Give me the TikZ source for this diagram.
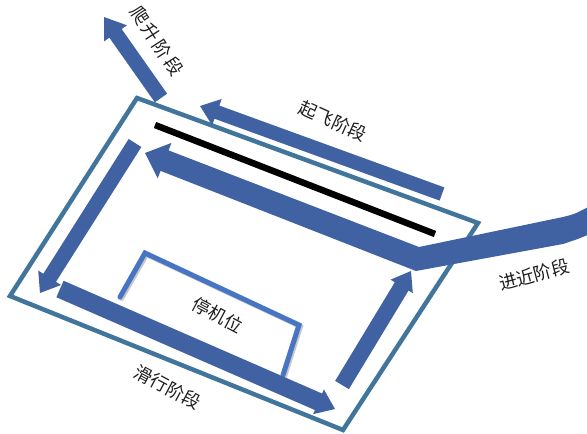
\documentclass[tikz,border=0pt]{standalone}
\usepackage{fontspec}
\newfontfamily\cjk{Noto Sans CJK SC}
\usetikzlibrary{calc}
\definecolor{arrowblue}{RGB}{64,97,162}
\definecolor{framecol}{RGB}{66,117,155}
\definecolor{standcol}{RGB}{70,117,196}
\definecolor{txtcol}{RGB}{30,30,30}
\newcommand\blkarrow[5]{% tail, tip, shaft half width, head half width, head length
  \coordinate (hb) at ($(#2)!#5!(#1)$);
  \fill[arrowfill] ($(#1)!#3!90:(#2)$) -- ($(hb)!#3!90:(#2)$) -- ($(hb)!#4!90:(#2)$) -- (#2)
    -- ($(hb)!#4!-90:(#2)$) -- ($(hb)!#3!-90:(#2)$) -- ($(#1)!#3!-90:(#2)$) -- cycle;}
\tikzset{
  arrowfill/.style={fill=arrowblue},
  frameline/.style={draw=framecol, line width=4.5pt, line join=miter},
  runway/.style={draw=black, line width=6.5pt},
  standline/.style={draw=standcol, line width=5pt, line cap=round, line join=miter},
  standshadow/.style={draw=black!22, line width=5pt, line cap=round, line join=miter},
  lbl/.style={font=\cjk\fontsize{18}{21}\selectfont, text=txtcol, inner sep=0pt}
}
\begin{document}
\begin{tikzpicture}[x=1pt,y=-1pt]
\useasboundingbox (0,0) rectangle (587,434);
% frame
\coordinate (f1) at (137,98);
\coordinate (f2) at (478,223);
\coordinate (f3) at (343,430);
\coordinate (f4) at (10,296);
\draw[frameline] (f1) -- (f2) -- (f3) -- (f4) -- cycle;
% runway
\coordinate (r1) at (155,125);
\coordinate (r2) at (435,234);
\draw[runway] (r1) -- (r2);
% stand
\coordinate (s1) at (120,297);
\coordinate (s2) at (145,253);
\coordinate (s3) at (299,325);
\coordinate (s4) at (283,375);
\draw[standshadow] ($(s1)+(1.5,1.5)$) -- ($(s2)+(1.5,1.5)$) -- ($(s3)+(1.5,1.5)$) -- ($(s4)+(1.5,1.5)$);
\draw[standline] (s1) -- (s2) -- (s3) -- (s4);
% climb arrow
\coordinate (ctail) at (161,98);
\coordinate (ctip) at (104,17);
\blkarrow{ctail}{ctip}{7.5pt}{14pt}{20pt}
% takeoff arrow
\coordinate (ttail) at (442,194);
\coordinate (ttip) at (200,106);
\blkarrow{ttail}{ttip}{7pt}{14pt}{18pt}
% left down arrow
\coordinate (ltail) at (135,143);
\coordinate (ltip) at (40,293);
\blkarrow{ltail}{ltip}{7.5pt}{13.5pt}{18pt}
% taxi arrow
\coordinate (btail) at (60,289);
\coordinate (btip) at (335,409);
\blkarrow{btail}{btip}{9pt}{13.5pt}{18pt}
% right up arrow
\coordinate (utail) at (342,385);
\coordinate (utip) at (411,271);
\blkarrow{utail}{utip}{8pt}{13pt}{18pt}
% main approach / landing arrow
\coordinate (mbend) at (417,259);
\coordinate (mtip) at (145,153);
\coordinate (mh) at ($(mtip)!21pt!(mbend)$);
\coordinate (mtop) at (419,247);
\coordinate (mbot) at (416,271);
\fill[arrowfill] (mtip) -- ($(mh)!19pt!-90:(mtip)$) -- ($(mh)!11pt!-90:(mtip)$) -- (mtop)
  -- (563,217) .. controls (575,214) .. (590,206) -- (590,234)
  .. controls (578,239) .. (563,244) -- (mbot)
  -- ($(mh)!11pt!90:(mtip)$) -- ($(mh)!19pt!90:(mtip)$) -- cycle;
% labels
\node[lbl, rotate=-57] (climb) at (157,41) {爬\hspace{2.5pt}升\hspace{2.5pt}阶\hspace{2.5pt}段};
\node[lbl, rotate=-24] (takeoff) at (333,121) {起飞阶段};
\node[lbl, rotate=15] (approach) at (534,275) {进近阶段};
\node[lbl, rotate=-28] (stand) at (218,315) {停机位};
\node[lbl, rotate=-28] (taxi) at (168,387) {滑行阶段};
\end{tikzpicture}
\end{document}
